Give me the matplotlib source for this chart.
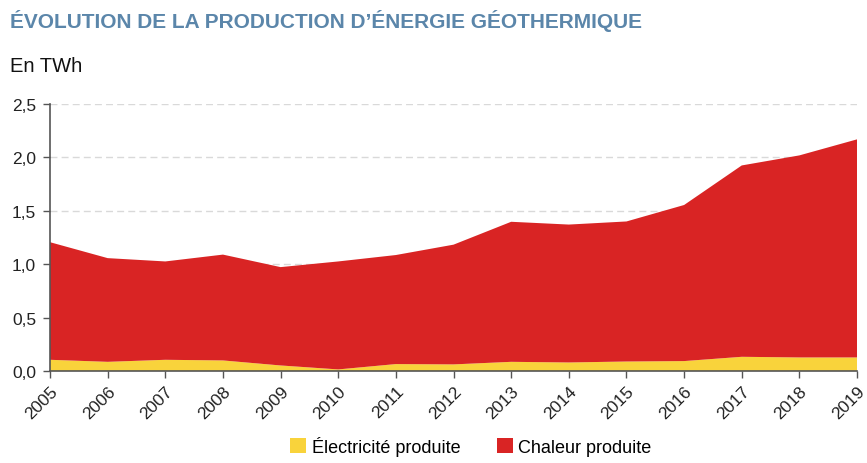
import numpy as np
import matplotlib
matplotlib.use("Agg")
import matplotlib.pyplot as plt
from matplotlib.patches import Patch
from matplotlib.ticker import FuncFormatter

plt.rcParams['font.family'] = ['Liberation Sans', 'DejaVu Sans']

years = [2005, 2006, 2007, 2008, 2009, 2010, 2011, 2012, 2013, 2014, 2015, 2016, 2017, 2018, 2019]
electricite = [0.106, 0.087, 0.106, 0.100, 0.053, 0.016, 0.066, 0.063, 0.087, 0.081, 0.090, 0.094, 0.134, 0.128, 0.128]
chaleur = [1.10, 0.97, 0.92, 0.99, 0.92, 1.01, 1.02, 1.12, 1.31, 1.29, 1.31, 1.46, 1.79, 1.89, 2.04]

jaune = '#F9D33B'
rouge = '#D92424'

fig = plt.figure(figsize=(8.67, 4.64), dpi=100)
ax = fig.add_axes([0.0577, 0.198, 0.9308, 0.576])

ax.stackplot(years, electricite, chaleur, colors=[jaune, rouge], linewidth=0)

ax.set_xlim(2005, 2019)
ax.set_ylim(0, 2.5)
ax.set_yticks(np.arange(0, 2.51, 0.5))
ax.yaxis.set_major_formatter(FuncFormatter(lambda v, p: f"{v:.1f}".replace('.', ',')))
ax.set_xticks(years)
ax.set_xticklabels([str(y) for y in years], rotation=45, ha='right', rotation_mode='anchor')

ax.grid(axis='y', color='#d9d9d9', linestyle=(0, (5, 3)), linewidth=1)
ax.set_axisbelow(True)
for s in ['top', 'right']:
    ax.spines[s].set_visible(False)
for s in ['left', 'bottom']:
    ax.spines[s].set_color('#555555')
    ax.spines[s].set_linewidth(1.2)
ax.tick_params(axis='both', labelsize=12.5, color='#555555', length=5, width=1, labelcolor='#222222')
ax.tick_params(axis='y', pad=5)

fig.text(0.012, 0.955, "ÉVOLUTION DE LA PRODUCTION D’ÉNERGIE GÉOTHERMIQUE",
         fontsize=15, fontweight='bold', color='#5B86AA', va='center')
fig.text(0.012, 0.857, "En TWh", fontsize=14.5, color='#111111', va='center')

handles = [Patch(facecolor=jaune, label='Électricité produite'),
           Patch(facecolor=rouge, label='Chaleur produite')]
fig.legend(handles=handles, loc='lower center', bbox_to_anchor=(0.543, -0.02), ncol=2,
           frameon=False, fontsize=13, handlelength=0.9, handleheight=0.9,
           columnspacing=2.0, handletextpad=0.3)

fig.savefig('out.png', dpi=100)
